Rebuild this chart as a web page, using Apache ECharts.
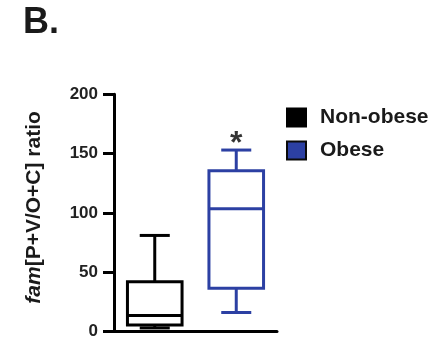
<!DOCTYPE html>
<html><head><meta charset="utf-8">
<script src="https://cdn.jsdelivr.net/npm/echarts@6/dist/echarts.min.js"></script>
<style>html,body{margin:0;padding:0;background:#fff}#c{width:444px;height:340px}</style>
</head><body><div id="c"></div>
<script>
const categories = ['Non-obese', 'Obese'];
// [min, Q1, median, Q3, max]
const nonObese = [3, 5.5, 13.5, 42, 81];
const obese = [16, 36.5, 103.5, 135.5, 153];
const yTicks = [0, 50, 100, 150, 200];
const starValue = 162;

const FONT = '"Liberation Sans", Arial, sans-serif';
const BLUE = '#2c40a3';

function boxRender(color) {
  return function (params, api) {
    const x = api.value(0);
    const pMin = api.coord([x, api.value(1)]);
    const pQ1 = api.coord([x, api.value(2)]);
    const pMed = api.coord([x, api.value(3)]);
    const pQ3 = api.coord([x, api.value(4)]);
    const pMax = api.coord([x, api.value(5)]);
    const cx = pMed[0];
    const bw = api.size([1, 0])[0] * 0.67;
    const cw = bw * 0.55;
    const st = { stroke: color, lineWidth: 3, fill: null };
    return {
      type: 'group',
      children: [
        { type: 'line', shape: { x1: cx, y1: pQ3[1], x2: cx, y2: pMax[1] }, style: st },
        { type: 'line', shape: { x1: cx - cw / 2, y1: pMax[1], x2: cx + cw / 2, y2: pMax[1] }, style: st },
        { type: 'line', shape: { x1: cx, y1: pQ1[1], x2: cx, y2: pMin[1] }, style: st },
        { type: 'line', shape: { x1: cx - cw / 2, y1: pMin[1], x2: cx + cw / 2, y2: pMin[1] }, style: st },
        { type: 'rect', shape: { x: cx - bw / 2, y: pQ3[1], width: bw, height: pQ1[1] - pQ3[1] }, style: { stroke: color, lineWidth: 3, fill: '#fff' } },
        { type: 'line', shape: { x1: cx - bw / 2, y1: pMed[1], x2: cx + bw / 2, y2: pMed[1] }, style: st }
      ]
    };
  };
}

const chart = echarts.init(document.getElementById('c'), null, { renderer: 'canvas' });
chart.setOption({
  animation: false,
  backgroundColor: '#fff',
  title: {
    text: 'B.', left: 18, top: 0,
    textStyle: { fontFamily: FONT, fontSize: 36, fontWeight: 'bold', color: '#1a1a1a' }
  },
  legend: {
    orient: 'vertical', left: 281, top: 102,
    itemWidth: 19, itemHeight: 18, itemGap: 12,
    textStyle: { fontFamily: FONT, fontSize: 21, fontWeight: 'bold', color: '#1a1a1a', padding: [0, 0, 0, 9] },
    data: [
      { name: 'Non-obese', icon: 'rect', itemStyle: { color: '#000', borderColor: '#000', borderWidth: 2 } },
      { name: 'Obese', icon: 'rect', itemStyle: { color: BLUE, borderColor: '#0a0a0a', borderWidth: 2 } }
    ]
  },
  grid: { left: 114, top: 94.3, width: 163, height: 237.2 },
  xAxis: {
    type: 'category', data: categories,
    axisLine: { lineStyle: { color: '#000', width: 3 } },
    axisTick: { show: false }, axisLabel: { show: false }, splitLine: { show: false }
  },
  yAxis: {
    type: 'value', min: 0, max: 200, interval: 50,
    name: '{i|fam}[P+V/O+C] ratio',
    nameLocation: 'middle', nameRotate: 90, nameGap: 69,
    nameTextStyle: {
      fontFamily: FONT, fontSize: 21, fontWeight: 'bold', color: '#1a1a1a',
      padding: [0, 0, 0, 11],
      rich: { i: { fontFamily: FONT, fontSize: 21, fontWeight: 'bold', fontStyle: 'italic', color: '#1a1a1a' } }
    },
    axisLine: { show: true, lineStyle: { color: '#000', width: 3 } },
    axisTick: { show: true, length: 11, lineStyle: { color: '#000', width: 3 } },
    axisLabel: {
      margin: 16, fontFamily: FONT, fontSize: 17, fontWeight: 'bold', color: '#222',
      formatter: function (v) { return yTicks.indexOf(v) >= 0 ? String(v) : ''; }
    },
    splitLine: { show: false }
  },
  series: [
    {
      name: 'Non-obese', type: 'custom', renderItem: boxRender('#000'),
      itemStyle: { color: '#000' },
      encode: { x: 0, y: [1, 2, 3, 4, 5] },
      data: [[0].concat(nonObese)]
    },
    {
      name: 'Obese', type: 'custom', renderItem: boxRender(BLUE),
      itemStyle: { color: BLUE },
      encode: { x: 0, y: [1, 2, 3, 4, 5] },
      data: [[1].concat(obese)]
    },
    {
      name: 'sig', type: 'scatter', symbolSize: 1, itemStyle: { color: 'rgba(0,0,0,0)' },
      data: [[1, starValue]],
      label: { show: true, position: 'inside', formatter: '*', fontFamily: FONT, fontSize: 32, fontWeight: 'bold', color: '#000', offset: [0, 5] },
      silent: true
    }
  ]
});
</script>
</body></html>
